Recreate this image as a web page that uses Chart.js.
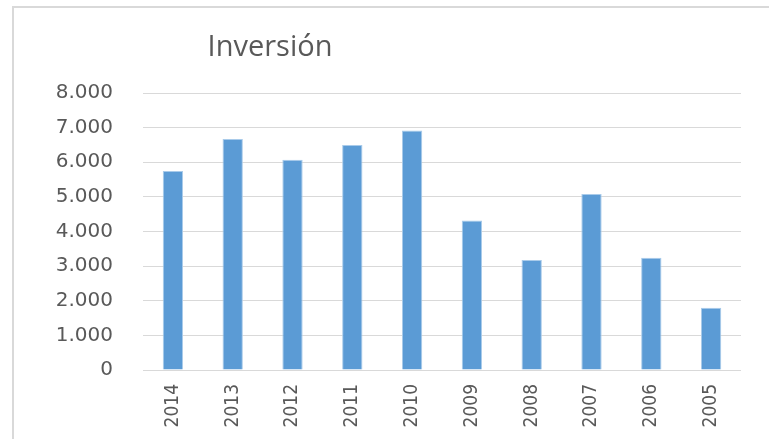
<!DOCTYPE html>
<html>
<head>
<meta charset="utf-8">
<script src="https://cdn.jsdelivr.net/npm/chart.js@4/dist/chart.umd.min.js"></script>
<style>
  html, body { margin: 0; padding: 0; background: #fff; overflow: hidden; }
  #wrap { position: absolute; left: 0; top: 0; width: 769px; height: 439px; }
</style>
</head>
<body>
<div id="wrap"><canvas id="myChart" width="769" height="439"></canvas></div>
<script>
const chartTitle = 'Inversión';
const years = ['2014', '2013', '2012', '2011', '2010', '2009', '2008', '2007', '2006', '2005'];
const inversion = [5750, 6670, 6070, 6500, 6920, 4320, 3180, 5080, 3240, 1800];
const yTicks = [0, 1000, 2000, 3000, 4000, 5000, 6000, 7000, 8000];

// miles con punto
var formatNum = function(v) {
    return String(v).replace(/\B(?=(\d{3})+(?!\d))/g, '.');
}

// marco (solo arriba e izquierda, el original esta recortado) y titulo
const framePlugin = {
    id: 'frameAndTitle',
    beforeDraw: function(chart) {
        var ctx = chart.ctx;
        ctx.save();
        ctx.strokeStyle = '#d9d9d9';
        ctx.lineWidth = 2;
        ctx.beginPath();
        ctx.moveTo(13, chart.height);
        ctx.lineTo(13, 7);
        ctx.lineTo(chart.width, 7);
        ctx.stroke();
        ctx.restore();
    },
    afterDraw: function(chart) {
        var ctx = chart.ctx;
        ctx.save();
        ctx.font = '29px "Open Sans"';
        ctx.fillStyle = '#595959';
        ctx.textAlign = 'center';
        ctx.textBaseline = 'alphabetic';
        ctx.fillText(chartTitle, 270, 56);
        ctx.restore();
    }
};

var ctx = document.getElementById('myChart');
var myChart = new Chart(ctx, {
    type: 'bar',
    data: {
        labels: years,
        datasets: [{
            label: chartTitle,
            data: inversion,
            backgroundColor: '#5b9bd5',
            borderColor: '#a9cbea',
            borderWidth: 1,
            barPercentage: 0.34,
            categoryPercentage: 1
        }]
    },
    options: {
        responsive: false,
        animation: false,
        layout: { padding: { top: 93, right: 28, left: 0, bottom: 0 } },
        plugins: {
            legend: { display: false },
            title: { display: false },
            tooltip: { enabled: false }
        },
        scales: {
            x: {
                grid: { display: false },
                border: { display: false },
                afterFit: function(scale) { scale.height = 69; },
                ticks: {
                    minRotation: 90,
                    maxRotation: 90,
                    padding: 6,
                    color: '#595959',
                    font: { family: '"DejaVu Sans Condensed", "DejaVu Sans"', size: 19 }
                }
            },
            y: {
                min: 0,
                max: 8000,
                afterFit: function(scale) { scale.width = 143; },
                afterBuildTicks: function(scale) {
                    scale.ticks = yTicks.map(v => ({ value: v }));
                },
                grid: { color: '#d9d9d9', lineWidth: 1, drawTicks: false },
                border: { display: false },
                ticks: {
                    padding: 30,
                    color: '#595959',
                    font: { family: '"DejaVu Sans"', size: 20 },
                    callback: function(value) { return formatNum(value); }
                }
            }
        }
    },
    plugins: [framePlugin]
});
</script>
</body>
</html>
